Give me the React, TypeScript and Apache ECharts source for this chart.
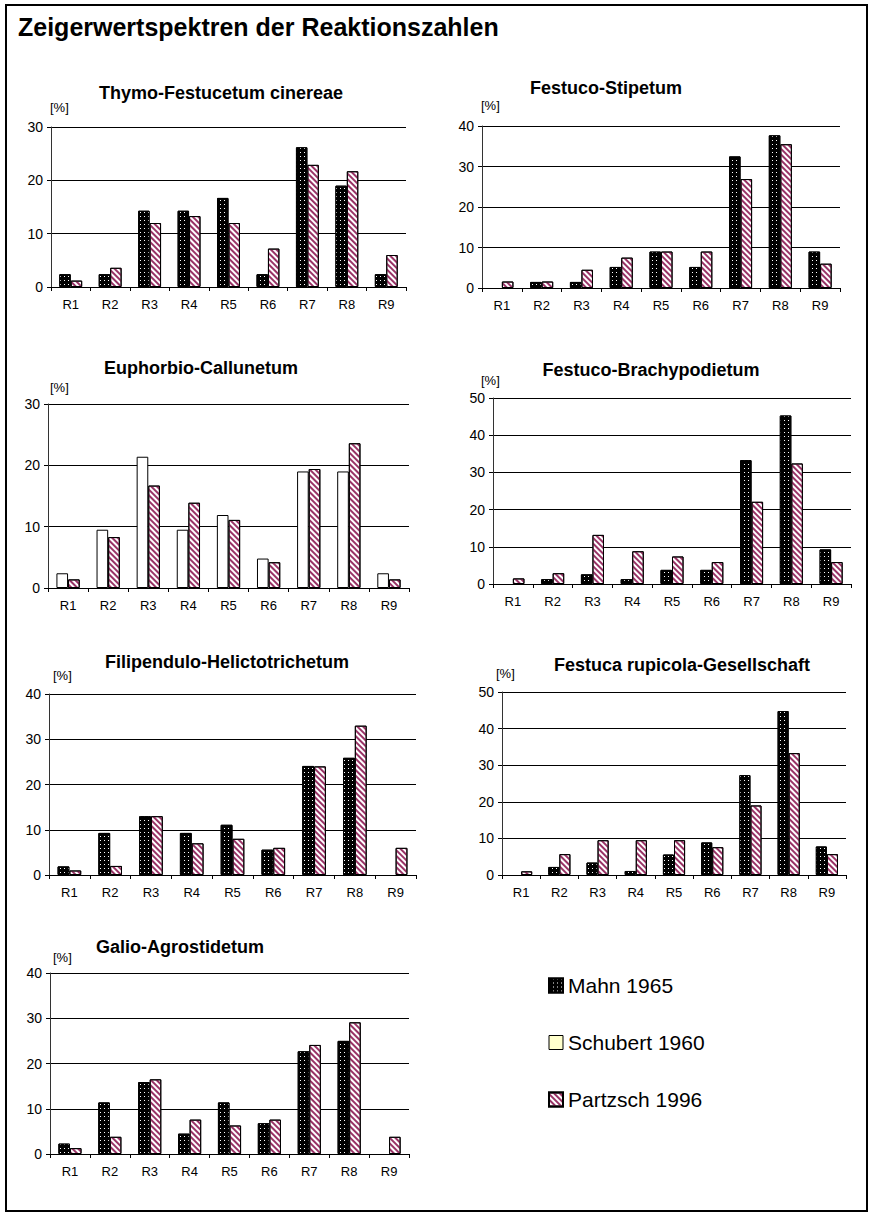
import React, { useEffect, useRef } from 'react';
import * as echarts from 'echarts';

const categories = ['R1', 'R2', 'R3', 'R4', 'R5', 'R6', 'R7', 'R8', 'R9'];
const seriesNames = ['Mahn 1965', 'Schubert 1960', 'Partzsch 1996'];
const mainTitle = 'Zeigerwertspektren der Reaktionszahlen';
const unitLabel = '[%]';

const panelTitles = [
  'Thymo-Festucetum cinereae',
  'Festuco-Stipetum',
  'Euphorbio-Callunetum',
  'Festuco-Brachypodietum',
  'Filipendulo-Helictotrichetum',
  'Festuca rupicola-Gesellschaft',
  'Galio-Agrostidetum',
];
const yMax = [30, 40, 30, 50, 40, 50, 40];

const thymoMahn = [2.4, 2.4, 14.3, 14.3, 16.7, 2.4, 26.2, 19.0, 2.4];
const thymoPartzsch = [1.2, 3.6, 12.0, 13.3, 12.0, 7.2, 22.9, 21.7, 6.0];
const stipetumMahn = [0, 1.5, 1.5, 5.2, 9.0, 5.2, 32.5, 37.7, 9.0];
const stipetumPartzsch = [1.6, 1.6, 4.5, 7.5, 9.0, 9.0, 26.9, 35.5, 6.0];
const callunetumSchubert = [2.4, 9.5, 21.4, 9.5, 11.9, 4.8, 19.0, 19.0, 2.4];
const callunetumPartzsch = [1.4, 8.3, 16.7, 13.9, 11.1, 4.2, 19.4, 23.6, 1.4];
const brachypodietumMahn = [0, 1.3, 2.6, 1.3, 3.8, 3.8, 33.3, 45.3, 9.3];
const brachypodietumPartzsch = [1.5, 2.9, 13.2, 8.8, 7.4, 5.9, 22.1, 32.4, 5.9];
const helictotrichetumMahn = [1.9, 9.3, 13.0, 9.3, 11.1, 5.6, 24.1, 25.9, 0];
const helictotrichetumPartzsch = [1.0, 2.0, 13.0, 7.0, 8.0, 6.0, 24.0, 33.0, 6.0];
const rupicolaMahn = [0, 2.2, 3.4, 1.1, 5.6, 8.9, 27.3, 44.8, 7.8];
const rupicolaPartzsch = [1.0, 5.7, 9.5, 9.5, 9.5, 7.6, 19.0, 33.3, 5.7];
const agrostidetumMahn = [2.3, 11.4, 15.9, 4.5, 11.4, 6.8, 22.7, 25.0, 0];
const agrostidetumPartzsch = [1.3, 3.8, 16.5, 7.6, 6.3, 7.6, 24.1, 29.1, 3.8];

const panelSeries: { first: number[]; firstName: number; second: number[] }[] = [
  { first: thymoMahn, firstName: 0, second: thymoPartzsch },
  { first: stipetumMahn, firstName: 0, second: stipetumPartzsch },
  { first: callunetumSchubert, firstName: 1, second: callunetumPartzsch },
  { first: brachypodietumMahn, firstName: 0, second: brachypodietumPartzsch },
  { first: helictotrichetumMahn, firstName: 0, second: helictotrichetumPartzsch },
  { first: rupicolaMahn, firstName: 0, second: rupicolaPartzsch },
  { first: agrostidetumMahn, firstName: 0, second: agrostidetumPartzsch },
];

// layout (pixels)
const layout = [
  { grid: { left: 51, top: 127, width: 355, height: 160 }, title: [221, 93], unit: [50, 107] },
  { grid: { left: 482, top: 126, width: 358, height: 162 }, title: [606, 88], unit: [481, 105] },
  { grid: { left: 48, top: 404, width: 361, height: 184 }, title: [201, 368], unit: [50, 387] },
  { grid: { left: 493, top: 398, width: 358, height: 186 }, title: [651, 370], unit: [481, 380] },
  { grid: { left: 49, top: 694, width: 367, height: 181 }, title: [227, 662], unit: [53, 675] },
  { grid: { left: 502, top: 692, width: 344, height: 183 }, title: [682, 665], unit: [496, 673] },
  { grid: { left: 50, top: 973, width: 359, height: 181 }, title: [180, 947], unit: [53, 957] },
];

const FONT = '"Liberation Sans", Arial, Helvetica, sans-serif';

const itemStyles: any[] = [
  {
    color: '#000000',
    borderColor: '#000000',
    borderWidth: 1,
    decal: {
      symbol: 'rect',
      symbolSize: 1,
      color: '#ffffff',
      dashArrayX: [1, 3],
      dashArrayY: [1, 3],
    },
  },
  { color: '#ffffff', borderColor: '#000000', borderWidth: 1 },
  {
    color: '#ffffff',
    borderColor: '#000000',
    borderWidth: 1,
    decal: {
      symbol: 'rect',
      symbolSize: 1,
      color: '#993366',
      dashArrayX: [1, 0],
      dashArrayY: [1.5, 1.5],
      rotation: Math.PI / 4,
    },
  },
];

// a share of 0 is simply not drawn (no bar), as in the original
const toBars = (values: number[]) => values.map((v) => (v === 0 ? '-' : v));

function buildOption() {
  const grid = layout.map((l) => ({ ...l.grid, containLabel: false }));
  const xAxis = layout.map((_, i) => ({
    type: 'category',
    gridIndex: i,
    data: categories,
    boundaryGap: true,
    axisLine: { show: true, lineStyle: { color: '#000', width: 1 } },
    axisTick: { show: true, length: 4, alignWithLabel: false, lineStyle: { color: '#000' } },
    axisLabel: { color: '#000', fontSize: 13, margin: 11, fontFamily: FONT },
    splitLine: { show: false },
  }));
  const yAxis = layout.map((_, i) => ({
    type: 'value',
    gridIndex: i,
    min: 0,
    max: yMax[i],
    interval: 10,
    axisLine: { show: true, lineStyle: { color: '#333', width: 1 } },
    axisTick: { show: true, length: 4, lineStyle: { color: '#000' } },
    axisLabel: { color: '#000', fontSize: 14, margin: 8, fontFamily: FONT },
    splitLine: { show: true, lineStyle: { color: '#000', width: 1 } },
  }));
  const series: any[] = [];
  panelSeries.forEach((p, i) => {
    series.push({
      type: 'bar',
      name: seriesNames[p.firstName],
      xAxisIndex: i,
      yAxisIndex: i,
      data: toBars(p.first),
      barGap: '0%',
      barCategoryGap: '42%',
      itemStyle: itemStyles[p.firstName],
    });
    series.push({
      type: 'bar',
      name: seriesNames[2],
      xAxisIndex: i,
      yAxisIndex: i,
      data: toBars(p.second),
      barGap: '0%',
      barCategoryGap: '42%',
      itemStyle: itemStyles[2],
    });
  });

  const graphic: any[] = [
    {
      type: 'rect',
      shape: { x: 6, y: 5, width: 861, height: 1206 },
      style: { fill: 'none', stroke: '#000', lineWidth: 2 },
      z: -10,
    },
    {
      type: 'text',
      x: 18,
      y: 27,
      style: {
        text: mainTitle,
        fontSize: 25,
        fontWeight: 'bold',
        fontFamily: FONT,
        fill: '#000',
        align: 'left',
        textAlign: 'left',
        verticalAlign: 'middle',
        textVerticalAlign: 'middle',
      },
    },
  ];
  layout.forEach((l, i) => {
    graphic.push({
      type: 'text',
      x: l.title[0],
      y: l.title[1],
      style: {
        text: panelTitles[i],
        fontSize: 18,
        fontWeight: 'bold',
        fontFamily: FONT,
        fill: '#000',
        align: 'center',
        textAlign: 'center',
        verticalAlign: 'middle',
        textVerticalAlign: 'middle',
      },
    });
    graphic.push({
      type: 'text',
      x: l.unit[0],
      y: l.unit[1],
      style: {
        text: unitLabel,
        fontSize: 13,
        fontFamily: FONT,
        fill: '#000',
        align: 'left',
        textAlign: 'left',
        verticalAlign: 'middle',
        textVerticalAlign: 'middle',
      },
    });
  });

  return {
    animation: false,
    backgroundColor: '#ffffff',
    textStyle: { fontFamily: FONT },
    grid,
    xAxis,
    yAxis,
    series,
    legend: {
      orient: 'vertical',
      left: 548,
      top: 975,
      padding: 0,
      itemWidth: 14,
      itemHeight: 14,
      itemGap: 36,
      icon: 'rect',
      selectedMode: false,
      textStyle: { fontSize: 21, color: '#000', fontFamily: FONT },
      data: [
        { name: seriesNames[0] },
        { name: seriesNames[1], itemStyle: { color: '#FFFFCC', borderColor: '#000', borderWidth: 1 } },
        { name: seriesNames[2] },
      ],
    },
    graphic,
  };
}

export default function App() {
  const ref = useRef<HTMLDivElement>(null);
  useEffect(() => {
    document.body.style.margin = '0';
    const chart = echarts.init(ref.current as HTMLDivElement, null, {
      renderer: 'svg',
      width: 869,
      height: 1216,
    });
    chart.setOption(buildOption() as any);
    return () => {
      chart.dispose();
    };
  }, []);
  return (
    <div
      ref={ref}
      style={{ position: 'absolute', left: 0, top: 0, width: 869, height: 1216, background: '#fff' }}
    />
  );
}
